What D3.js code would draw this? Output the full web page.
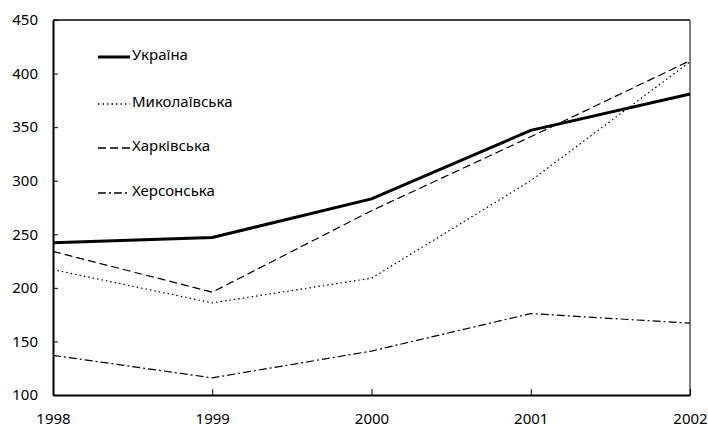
<!DOCTYPE html>
<html><head><meta charset="utf-8">
<script src="https://cdn.jsdelivr.net/npm/d3@7"></script>
<style>body{margin:0;background:#fff}svg{display:block}text{font-family:"Noto Sans",sans-serif;font-size:15px;fill:#000}</style>
</head><body><svg id="c" width="708" height="428"></svg>
<script>
const years = [1998, 1999, 2000, 2001, 2002];
const ukraine = [242, 247, 283, 347, 381];
const mykolaiv = [217, 186, 209, 300, 411];
const kharkiv = [234, 196, 272, 341, 412];
const kherson = [137, 116, 141, 176, 167];
const seriesNames = ["Укра\u0457на", "Микола\u0457вська", "Харківська", "Херсонська"];
const yTicks = [100, 150, 200, 250, 300, 350, 400, 450];

const series = [
  {name: seriesNames[0], values: ukraine, width: 3, dash: null},
  {name: seriesNames[1], values: mykolaiv, width: 1.2, dash: "1.5,3"},
  {name: seriesNames[2], values: kharkiv, width: 1.2, dash: "8,4"},
  {name: seriesNames[3], values: kherson, width: 1.2, dash: "8,3,2,3"}
];

const svg = d3.select("#c");
const L = 53, R = 690, T = 20, B = 395;
const x = d3.scaleLinear().domain([1998, 2002]).range([L, R]);
const y = d3.scaleLinear().domain([100, 450]).range([B, T]);

svg.append("line").attr("x1", L).attr("x2", R).attr("y1", T).attr("y2", T).attr("stroke", "#000").attr("stroke-width", 1.5);
svg.append("line").attr("x1", R).attr("x2", R).attr("y1", T).attr("y2", B).attr("stroke", "#555").attr("stroke-width", 1.5);

const yAxis = d3.axisLeft(y).tickValues(yTicks).tickSizeInner(-5).tickSizeOuter(0).tickPadding(16);
const gy = svg.append("g").attr("transform", `translate(${L},0)`).call(yAxis);
const xAxis = d3.axisBottom(x).tickValues(years).tickFormat(d3.format("d")).tickSizeInner(-6).tickSizeOuter(0).tickPadding(18);
const gx = svg.append("g").attr("transform", `translate(0,${B})`).call(xAxis);
[gx, gy].forEach(g => {
  g.select(".domain").attr("stroke", "#000").attr("stroke-width", 2);
  g.selectAll(".tick line").attr("stroke", "#000");
  g.selectAll("text").attr("font-family", "Noto Sans, sans-serif").attr("font-size", 15).attr("fill", "#000");
});
gy.selectAll(".tick text").attr("x", -15);

const line = d3.line().x((d, i) => x(years[i])).y(d => y(d));
series.forEach(s => {
  svg.append("path").datum(s.values).attr("d", line)
    .attr("fill", "none").attr("stroke", "#000").attr("stroke-width", s.width)
    .attr("stroke-dasharray", s.dash);
});

const legY = [57, 104, 148, 193];
series.forEach((s, i) => {
  const g = svg.append("g").attr("transform", `translate(0,${legY[i]})`);
  g.append("line").attr("x1", 98).attr("x2", 130).attr("y1", 0).attr("y2", 0)
    .attr("stroke", "#000").attr("stroke-width", s.width === 3 ? 3 : 1.5).attr("stroke-dasharray", s.dash);
  g.append("text").attr("x", 132).attr("y", -2).attr("dy", "0.35em").text(s.name);
});
</script></body></html>
